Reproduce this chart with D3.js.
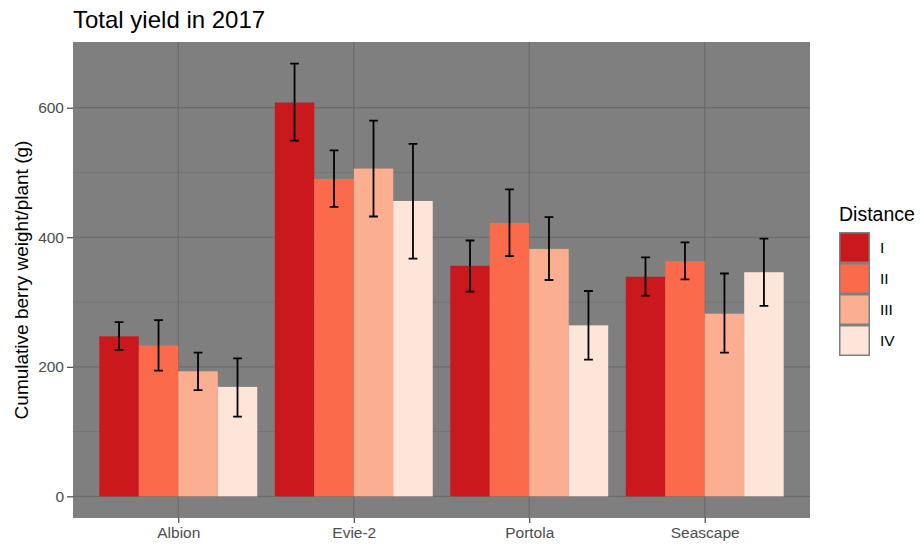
<!DOCTYPE html>
<html>
<head>
<meta charset="utf-8">
<script src="https://cdn.jsdelivr.net/npm/d3@7"></script>
<style>
  html, body { margin: 0; padding: 0; background: #fff; }
  svg { display: block; font-family: "Liberation Sans", Arial, Helvetica, sans-serif; }
</style>
</head>
<body>
<svg id="chart" width="921" height="546"></svg>
<script>
// Cultivars on the x axis and distance classes within each group
const cultivars = ["Albion", "Evie-2", "Portola", "Seascape"];
const distances = ["I", "II", "III", "IV"];

// Mean cumulative berry weight per plant (g), one array per distance class
const yieldI   = [247, 608, 356, 339];
const yieldII  = [233, 490, 422, 363];
const yieldIII = [193, 506, 382, 282];
const yieldIV  = [169, 456, 264, 346];

// Error bar bounds (lower, upper) per distance class
const lowerI   = [226, 549, 316, 310];
const upperI   = [269, 668, 395, 369];
const lowerII  = [194, 447, 371, 335];
const upperII  = [272, 534, 474, 392];
const lowerIII = [164, 432, 334, 222];
const upperIII = [222, 580, 431, 344];
const lowerIV  = [123, 367, 211, 294];
const upperIV  = [213, 544, 317, 398];

const yTicks = [0, 200, 400, 600];
const yMinor = [100, 300, 500];
const palette = ["#CB181D", "#FB6A4A", "#FCAE91", "#FEE5D9"];

const means = [yieldI, yieldII, yieldIII, yieldIV];
const lows = [lowerI, lowerII, lowerIII, lowerIV];
const highs = [upperI, upperII, upperIII, upperIV];

const rows = [];
cultivars.forEach((c, ci) => {
  distances.forEach((d, di) => {
    rows.push({ cultivar: c, distance: d, value: means[di][ci], lo: lows[di][ci], hi: highs[di][ci] });
  });
});

const svg = d3.select("#chart");
const panel = { left: 73, right: 810, top: 42, bottom: 518 };

// Continuous y range padded 5% of the data span on both sides
const yMax = d3.max(rows, r => r.hi);
const pad = yMax * 0.05;
const y = d3.scaleLinear().domain([-pad, yMax + pad]).range([panel.bottom, panel.top]);

// Discrete x with 0.6 unit padding at each end
const x = d3.scalePoint().domain(cultivars).range([panel.left, panel.right]).padding(0.6);
const unit = x.step();
const dodge = d3.scaleBand().domain(distances).range([-0.45 * unit, 0.45 * unit]).padding(0);
const color = d3.scaleOrdinal().domain(distances).range(palette);

// Panel background
svg.append("rect")
  .attr("x", panel.left).attr("y", panel.top)
  .attr("width", panel.right - panel.left).attr("height", panel.bottom - panel.top)
  .attr("fill", "#7F7F7F");

const grid = svg.append("g");
grid.selectAll("line.minor").data(yMinor).join("line")
  .attr("x1", panel.left).attr("x2", panel.right)
  .attr("y1", d => y(d)).attr("y2", d => y(d))
  .attr("stroke", "#6B6B6B").attr("stroke-width", 0.6);
grid.selectAll("line.majory").data(yTicks).join("line")
  .attr("x1", panel.left).attr("x2", panel.right)
  .attr("y1", d => y(d)).attr("y2", d => y(d))
  .attr("stroke", "#6B6B6B").attr("stroke-width", 1.2);
grid.selectAll("line.majorx").data(cultivars).join("line")
  .attr("x1", d => x(d)).attr("x2", d => x(d))
  .attr("y1", panel.top).attr("y2", panel.bottom)
  .attr("stroke", "#6B6B6B").attr("stroke-width", 1.2);

// Bars
svg.append("g").selectAll("rect").data(rows).join("rect")
  .attr("x", d => x(d.cultivar) + dodge(d.distance))
  .attr("width", dodge.bandwidth())
  .attr("y", d => y(d.value))
  .attr("height", d => y(0) - y(d.value))
  .attr("fill", d => color(d.distance));

// Error bars
const capHalf = 0.025 * unit;
const eb = svg.append("g").attr("stroke", "#000").attr("stroke-width", 1.8).attr("fill", "none");
rows.forEach(d => {
  const cx = x(d.cultivar) + dodge(d.distance) + dodge.bandwidth() / 2;
  eb.append("path")
    .attr("d", `M${cx - capHalf},${y(d.hi)}H${cx + capHalf}M${cx},${y(d.hi)}V${y(d.lo)}M${cx - capHalf},${y(d.lo)}H${cx + capHalf}`);
});

// Y axis
const yAxis = d3.axisLeft(y).tickValues(yTicks).tickSize(6).tickPadding(3);
const yg = svg.append("g").attr("transform", `translate(${panel.left},0)`).call(yAxis);
yg.select(".domain").remove();
yg.selectAll(".tick line").attr("stroke", "#333333").attr("stroke-width", 1.1);
yg.selectAll(".tick text").attr("fill", "#4D4D4D").attr("font-size", 15.5).attr("font-family", null);

// X axis
const xAxis = d3.axisBottom(x).tickSize(5).tickPadding(4);
const xg = svg.append("g").attr("transform", `translate(0,${panel.bottom})`).call(xAxis);
xg.select(".domain").remove();
xg.selectAll(".tick line").attr("stroke", "#333333").attr("stroke-width", 1.1);
xg.selectAll(".tick text").attr("fill", "#4D4D4D").attr("font-size", 15.5).attr("font-family", null);

// Titles
svg.append("text")
  .attr("x", panel.left).attr("y", 28)
  .attr("font-size", 24).attr("fill", "#000")
  .text("Total yield in 2017");

svg.append("text")
  .attr("transform", `translate(28,${(panel.top + panel.bottom) / 2}) rotate(-90)`)
  .attr("text-anchor", "middle")
  .attr("font-size", 19).attr("fill", "#000")
  .text("Cumulative berry weight/plant (g)");

// Legend
const legend = svg.append("g").attr("transform", "translate(839,0)");
legend.append("text").attr("x", 0).attr("y", 221)
  .attr("font-size", 19.5).attr("fill", "#000").text("Distance");
const keySize = 31;
const keys = legend.selectAll("g.key").data(distances).join("g")
  .attr("transform", (d, i) => `translate(0,${232 + i * keySize})`);
keys.append("rect").attr("width", keySize).attr("height", keySize).attr("fill", "#7F7F7F");
keys.append("rect").attr("x", 1.5).attr("y", 1.5)
  .attr("width", keySize - 3).attr("height", keySize - 3)
  .attr("fill", d => color(d));
keys.append("text").attr("x", keySize + 10).attr("y", keySize / 2)
  .attr("dy", "0.35em").attr("font-size", 15.5).attr("fill", "#000")
  .text(d => d);
</script>
</body>
</html>
